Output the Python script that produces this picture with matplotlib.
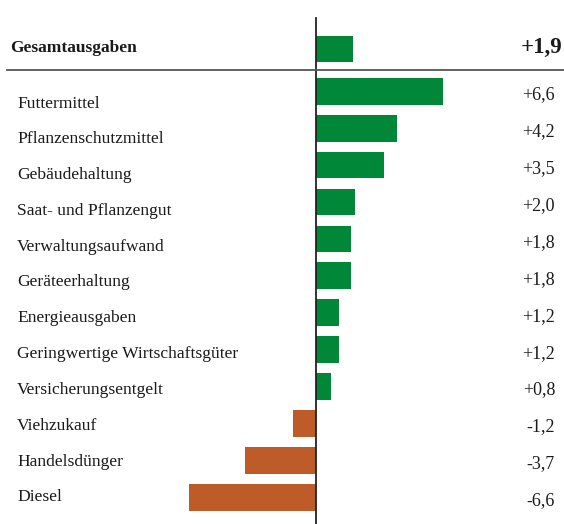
import matplotlib
matplotlib.use("Agg")
import matplotlib.pyplot as plt
import matplotlib.transforms as mtransforms

# data
total_label = "Gesamtausgaben"
total_value = 1.9
categories = ["Futtermittel", "Pflanzenschutzmittel", "Gebäudehaltung",
              "Saat- und Pflanzengut", "Verwaltungsaufwand", "Geräteerhaltung",
              "Energieausgaben", "Geringwertige Wirtschaftsgüter",
              "Versicherungsentgelt", "Viehzukauf", "Handelsdünger", "Diesel"]
values = [6.6, 4.2, 3.5, 2.0, 1.8, 1.8, 1.2, 1.2, 0.8, -1.2, -3.7, -6.6]

GREEN = "#008737"
ORANGE = "#BE5C29"

def fmt(v):
    return ("+" if v > 0 else "") + f"{v:.1f}".replace(".", ",")

plt.rcParams["font.family"] = ["Liberation Serif", "DejaVu Serif"]

W, H = 564, 524
fig = plt.figure(figsize=(W / 100, H / 100), dpi=100)
ax = fig.add_axes([0, 0, 1, 1])
px_per_unit = 19.3
zero_px = 316
ax.set_xlim(-zero_px / px_per_unit, (W - zero_px) / px_per_unit)
ax.set_ylim(H, 0)
ax.axis("off")

# rows in pixel space (y axis runs top-down)
pitch = 36.9
bar_y = [91.3 + i * pitch for i in range(len(categories))]
label_y = [107.5 + i * 35.8 for i in range(len(categories))]
bar_h = 26.7

colors = [GREEN if v >= 0 else ORANGE for v in values]
ax.barh(bar_y, values, height=bar_h, color=colors, zorder=2)
ax.barh([49], [total_value], height=bar_h, color=GREEN, zorder=2)

tr = mtransforms.blended_transform_factory(ax.transAxes, ax.transData)
for name, v, ly, by in zip(categories, values, label_y, bar_y):
    ax.text(17 / W, ly, name, transform=tr, ha="left", va="baseline",
            fontsize=12.6, color="#1a1a1a")
    ax.text(555 / W, by + 8, fmt(v), transform=tr, ha="right", va="baseline",
            fontsize=13, color="#1a1a1a")

ax.text(10 / W, 52, total_label, transform=tr, ha="left", va="baseline",
        fontsize=12.5, fontweight="bold", color="#1a1a1a")
ax.text(562 / W, 53, fmt(total_value), transform=tr, ha="right", va="baseline",
        fontsize=16.5, fontweight="bold", color="#1a1a1a")

# zero line and separator
ax.plot([0, 0], [18, H], color="#222222", lw=1.3, zorder=3)
ax.plot([7 / W, 1], [69.5, 69.5], transform=tr, color="#555555", lw=1.3,
        zorder=3)

fig.savefig("out.png", dpi=100, facecolor="white")
